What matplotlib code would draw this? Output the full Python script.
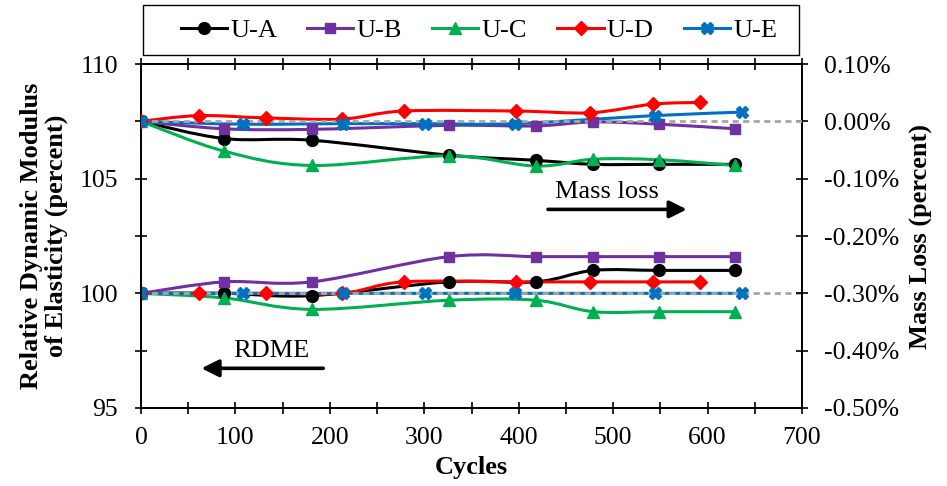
import numpy as np
import matplotlib
matplotlib.use("Agg")
import matplotlib.pyplot as plt
from matplotlib.path import Path
from matplotlib.patches import PathPatch, Rectangle
from matplotlib.lines import Line2D
from matplotlib.ticker import MultipleLocator, FuncFormatter

plt.rcParams["font.family"] = ["Liberation Serif", "DejaVu Serif"]
plt.rcParams["axes.unicode_minus"] = False

# Freeze-thaw cycles at each measurement, per mix
cycles_abc = [0, 88, 181, 326, 418, 479, 549, 629]
cycles_d = [0, 61, 132, 213, 278, 397, 476, 542, 592]
cycles_e = [0, 108, 214, 301, 396, 544, 636]

# Relative dynamic modulus of elasticity (percent)
rdme_a = [100, 100, 99.9, 100.5, 100.5, 101.0, 101.0, 101.0]
rdme_b = [100, 100.5, 100.5, 101.6, 101.6, 101.6, 101.6, 101.6]
rdme_c = [100, 99.8, 99.3, 99.7, 99.7, 99.2, 99.2, 99.2]
rdme_d = [100, 100, 100, 100, 100.5, 100.5, 100.5, 100.5, 100.5]
rdme_e = [100, 100, 100, 100, 100, 100, 100]

# Mass loss (percent)
mass_a = [0, -0.030, -0.033, -0.059, -0.068, -0.075, -0.075, -0.075]
mass_b = [0, -0.013, -0.014, -0.007, -0.008, -0.001, -0.005, -0.013]
mass_c = [0, -0.052, -0.077, -0.060, -0.078, -0.066, -0.067, -0.077]
mass_d = [0, 0.010, 0.006, 0.004, 0.018, 0.018, 0.015, 0.030, 0.033]
mass_e = [0, -0.005, -0.004, -0.004, -0.004, 0.010, 0.016]

labels = ["U-A", "U-B", "U-C", "U-D", "U-E"]
colors = ["#000000", "#7030A0", "#00B050", "#FF0000", "#0070C0"]
markers = ["o", "s", "^", "D", "X"]
msizes = [8.5, 7.8, 8.8, 7.4, 9.2]

series = [
    (cycles_abc, rdme_a, mass_a),
    (cycles_abc, rdme_b, mass_b),
    (cycles_abc, rdme_c, mass_c),
    (cycles_d, rdme_d, mass_d),
    (cycles_e, rdme_e, mass_e),
]


def smooth_path(x, y):
    """Cubic Bezier path through the points (Catmull-Rom style smoothing)."""
    pts = np.column_stack([x, y]).astype(float)
    verts = [pts[0]]
    codes = [Path.MOVETO]
    n = len(pts)
    for i in range(n - 1):
        p0 = pts[i - 1] if i > 0 else pts[i]
        p1 = pts[i]
        p2 = pts[i + 1]
        p3 = pts[i + 2] if i + 2 < n else pts[i + 1]
        c1 = p1 + (p2 - p0) / 6.0
        c2 = p2 - (p3 - p1) / 6.0
        verts += [c1, c2, p2]
        codes += [Path.CURVE4] * 3
    return Path(verts, codes)


fig = plt.figure(figsize=(9.47, 4.86), dpi=100)
ax = fig.add_axes([0.1489, 0.1605, 0.6980, 0.7078])
ax2 = ax.twinx()

lw = 2.2
for (xs, rd, ms), col, mk, msz in zip(series, colors, markers, msizes):
    ax.add_patch(PathPatch(smooth_path(xs, rd), fill=False, edgecolor=col,
                           lw=lw, zorder=2, capstyle="round", joinstyle="round"))
    ax.plot(xs, rd, ls="none", marker=mk, ms=msz, color=col, mec=col, zorder=4)
    ax2.add_patch(PathPatch(smooth_path(xs, ms), fill=False, edgecolor=col,
                            lw=lw, zorder=2, capstyle="round", joinstyle="round"))
    ax2.plot(xs, ms, ls="none", marker=mk, ms=msz, color=col, mec=col, zorder=4)

# Reference baselines
ax.axhline(100, color="#A6A6A6", lw=2.0, ls=(0, (2.2, 1.6)), zorder=3)
ax2.axhline(0, color="#A6A6A6", lw=2.0, ls=(0, (2.2, 1.6)), zorder=3)

ax.set_xlim(0, 700)
ax.set_ylim(95, 110)
ax2.set_ylim(-0.5, 0.1)

ax.xaxis.set_major_locator(MultipleLocator(100))
ax.xaxis.set_minor_locator(MultipleLocator(50))
ax.yaxis.set_major_locator(MultipleLocator(5))
ax.yaxis.set_minor_locator(MultipleLocator(2.5))
ax2.yaxis.set_major_locator(MultipleLocator(0.1))
ax2.yaxis.set_major_formatter(FuncFormatter(lambda v, p: f"{v:.2f}%"))

fs_tick = 18.5
fs_lab = 19
tick_kw = dict(direction="inout", length=9, width=1.2, color="black")
ax.tick_params(axis="x", which="both", top=True, labeltop=False, **tick_kw)
ax.tick_params(axis="y", which="both", right=False, **tick_kw)
ax2.tick_params(axis="y", which="both", left=False, **tick_kw)
ax.tick_params(axis="x", which="major", labelsize=fs_tick, pad=9)
ax.tick_params(axis="y", which="major", labelsize=fs_tick, pad=12)
ax2.tick_params(axis="y", which="major", labelsize=fs_tick, pad=11)

for a in (ax, ax2):
    for s in a.spines.values():
        s.set_linewidth(1.3)
        s.set_color("black")

ax.set_xlabel("Cycles", fontsize=fs_lab, fontweight="bold", labelpad=5)
ax.set_ylabel("Relative Dynamic Modulus\nof Elasticity (percent)", fontsize=fs_lab,
              fontweight="bold", linespacing=1.1, labelpad=8)
ax2.set_ylabel("Mass Loss (percent)", fontsize=fs_lab, fontweight="bold", labelpad=8)

# Direction hints for the two series groups
ax.annotate("", xy=(578, 103.66), xytext=(431, 103.66),
            arrowprops=dict(arrowstyle="-|>", lw=2.6, color="black",
                            mutation_scale=26, shrinkA=0, shrinkB=0))
ax.text(493, 104.4, "Mass loss", fontsize=19, ha="center", va="center")
ax.annotate("", xy=(64, 96.73), xytext=(193, 96.73),
            arrowprops=dict(arrowstyle="-|>", lw=2.6, color="black",
                            mutation_scale=26, shrinkA=0, shrinkB=0))
ax.text(138, 97.47, "RDME", fontsize=19, ha="center", va="center")

# Legend in a box above the plot
handles = [Line2D([0], [0], color=c, lw=lw, marker=m, ms=s, mec=c)
           for c, m, s in zip(colors, markers, msizes)]
fig.patches.append(Rectangle((143 / 947, 1 - 55 / 486), 656 / 947, 50 / 486,
                             transform=fig.transFigure, fill=False,
                             edgecolor="black", lw=1.0))
fig.legend(handles, labels, loc="center", bbox_to_anchor=(479 / 947, 1 - 30 / 486),
           ncol=5, frameon=False, fontsize=19, handlelength=1.75,
           handletextpad=0.12, columnspacing=1.15)

fig.savefig("out.png", dpi=100)
